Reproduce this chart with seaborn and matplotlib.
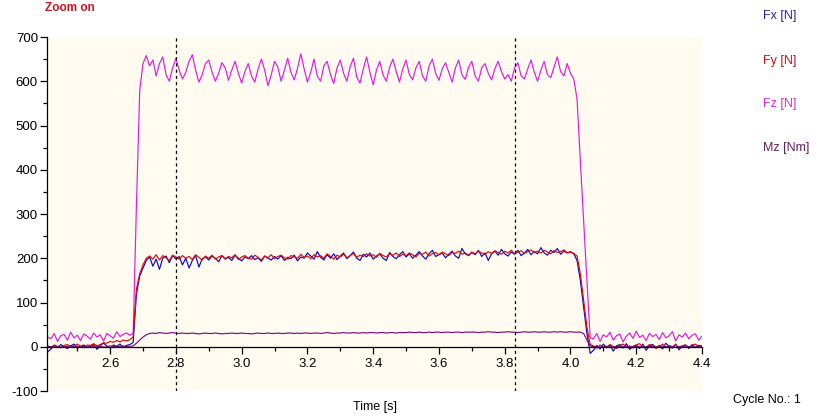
import numpy as np
import pandas as pd
import matplotlib
matplotlib.use("Agg")
import matplotlib.pyplot as plt
from matplotlib.ticker import MultipleLocator, FormatStrFormatter
import seaborn as sns

# ---------------- data (0.01 s sampling) ----------------
time_s = np.round(2.41 + 0.01 * np.arange(200), 2)

fz_values = [
    22, 18, 30, 12, 25, 28, 15, 33, 20, 26, 14, 29, 24, 17, 31, 22, 27, 13, 30, 25, 19, 34, 23, 28, 31, 26,
    30, 320, 580,
    640, 658, 635, 648, 612, 640, 655, 615, 600, 630, 652, 625, 605, 620, 645, 660,
    625, 598, 615, 640, 648, 620, 600, 618, 642, 630, 602, 625, 645, 618, 596, 622,
    640, 612, 598, 628, 650, 625, 590, 615, 645, 632, 600, 625, 652, 620, 603, 630,
    662, 628, 598, 620, 650, 612, 600, 635, 645, 615, 595, 630, 648, 618, 600, 633,
    652, 610, 596, 628, 655, 620, 592, 625, 645, 614, 600, 632, 650, 622, 598, 628,
    648, 615, 603, 630, 645, 612, 600, 635, 650, 618, 602, 628, 642, 620, 598, 630,
    648, 615, 604, 632, 645, 612, 600, 630, 640, 618, 603, 628, 645, 622, 605, 615,
    600, 630, 642, 612, 605, 628, 648, 620, 600, 625, 645, 615, 608, 632, 655, 622,
    612, 640, 618, 605,
    560, 420, 285, 150, 20,
    18, 30, 12, 27, 22, 33, 15, 25, 29, 11, 24, 31, 19, 35, 21, 26, 14, 30, 23, 28,
    16, 32, 20, 25, 34, 13, 27, 22, 31, 18, 26, 29, 15, 24,
]

fx_values = [
    -12, -5, 3, -2, 5, 0, -4, 2, 6, -3, 1, 4, -2, 0, 5, -6, 3, 8, 2, -3, 4, 1, 6, -2, 3, 5,
    10, 120, 160,
    178, 195, 203, 182, 198, 175, 200, 205, 190, 206,
    198, 204, 185, 200, 178, 195, 206, 180, 199, 203,
    196, 205, 200, 192, 206, 198, 202, 195, 207, 200,
    194, 203, 199, 206, 197, 201, 193, 205, 200, 196,
    204, 198, 206, 195, 202, 199, 207, 194, 203, 200,
    212, 205, 198, 215, 202, 196, 208, 200, 210, 197,
    205, 212, 199, 206, 214, 200, 195, 209, 203, 212,
    198, 205, 210, 200, 195, 213, 204, 199, 208, 215,
    203, 210, 200, 207, 215, 205, 198, 210, 218, 204,
    208, 212, 201, 209, 216, 205, 200, 222, 210, 206,
    213, 208, 218, 204, 212, 195, 210, 216, 207, 220,
    210, 205, 214, 209, 218, 206, 212, 220, 208, 215,
    210, 224, 212, 207, 218, 213, 222, 209, 216, 212,
    215, 210,
    195, 150, 90, 30, -15,
    -8, 3, -5, 6, -2, 4, -10, 2, 5, -3, 7, -6, 1, 4, -4, 6, -8, 2, 5, -2,
    3, -5, 8, 0, -3, 6, -7, 2, 4, -4, 5, -2, 3, 1,
]

fy_values = [
    2, -3, 4, 0, -2, 3, 5, -1, 2, 6, 1, -2, 4, 3, 7, 2, 5, 9, 8, 12, 10, 14, 11, 15, 13, 16,
    22, 130, 165,
    185, 200, 205, 198, 208, 196, 206, 201, 195, 207,
    203, 198, 206, 200, 204, 197, 208, 202, 196, 205,
    200, 207, 198, 203, 206, 199, 204, 201, 208, 197,
    203, 206, 200, 198, 207, 202, 196, 205, 201, 208,
    199, 204, 207, 201, 198, 206, 203, 200, 209, 202,
    205, 199, 208, 203, 206, 200, 210, 204, 198, 207,
    203, 209, 201, 206, 211, 202, 207, 204, 210, 205,
    208, 202, 211, 206, 203, 210, 207, 212, 204, 209,
    206, 212, 208, 203, 211, 209, 214, 205, 210, 213,
    208, 214, 210, 206, 213, 211, 216, 209, 212, 207,
    214, 210, 216, 212, 208, 215, 211, 217, 213, 209,
    216, 212, 218, 210, 214, 217, 211, 215, 219, 213,
    216, 212, 218, 214, 210, 217, 213, 215, 219, 212,
    214, 211,
    205, 165, 105, 45, 5,
    2, -3, 4, 0, -2, 5, 1, -4, 3, 6, -1, 2, -3, 4, 7, 0, -2, 5, 3, -4,
    1, 6, -2, 3, 0, 5, -3, 2, 4, -1, 3, 6, 0, 2,
]

mz_values = [
    1, 0, 2, 1, -1, 0, 1, 2, 0, 1, -1, 1, 0, 2, 1, 0, 1, -1, 0, 2, 1, 0, 1, 2, 0, 1,
    2, 8, 15,
    22, 27, 30, 31, 30, 32, 31, 30, 31, 32,
    31, 30, 31, 30, 30, 31, 30, 29, 30, 31,
    30, 30, 31, 30, 29, 30, 30, 31, 30, 30,
    31, 30, 30, 29, 30, 31, 30, 30, 31, 30,
    30, 31, 30, 30, 31, 31, 30, 31, 30, 31,
    31, 30, 31, 31, 30, 31, 32, 31, 30, 31,
    31, 32, 31, 31, 32, 31, 31, 32, 31, 32,
    32, 31, 32, 32, 31, 32, 32, 31, 32, 32,
    32, 33, 32, 32, 33, 32, 32, 33, 32, 33,
    33, 32, 33, 33, 32, 33, 33, 32, 33, 33,
    33, 33, 32, 33, 33, 34, 33, 33, 32, 33,
    33, 34, 33, 33, 32, 33, 34, 33, 33, 34,
    33, 33, 34, 33, 33, 34, 33, 34, 33, 33,
    34, 33,
    33, 33, 30, 15, 2,
    0, 1, -1, 0, 1, 0, -1, 1, 0, 0, 1, -1, 0, 1, 0, -1, 0, 1, 0, 0,
    -1, 1, 0, 1, 0, -1, 0, 1, 0, 0, 1, -1, 0, 1,
]

channel_names = ["Fz [N]", "Fx [N]", "Fy [N]", "Mz [Nm]"]
legend_order = ["Fx [N]", "Fy [N]", "Fz [N]", "Mz [Nm]"]
cursor_times = [2.8, 3.83]
y_ticks = [-100, 0, 100, 200, 300, 400, 500, 600, 700]
x_ticks = [2.6, 2.8, 3.0, 3.2, 3.4, 3.6, 3.8, 4.0, 4.2, 4.4]

line_colors = {"Fx [N]": "#0A0AB4", "Fy [N]": "#E00808",
               "Fz [N]": "#DD1CDD", "Mz [Nm]": "#800A80"}
text_colors = {"Fx [N]": "#2626A0", "Fy [N]": "#C81414",
               "Fz [N]": "#D030D0", "Mz [Nm]": "#5E205E"}

series = {"Fx [N]": fx_values, "Fy [N]": fy_values,
          "Fz [N]": fz_values, "Mz [Nm]": mz_values}
df = pd.concat([pd.DataFrame({"t": time_s, "v": series[n], "ch": n})
                for n in channel_names], ignore_index=True)

# ---------------- figure ----------------
sns.set_style("white")
plt.rcParams["font.family"] = ["Liberation Sans", "DejaVu Sans"]
plt.rcParams["axes.unicode_minus"] = False

fig = plt.figure(figsize=(8.25, 4.19), dpi=100)
ax = fig.add_axes([47 / 825, 1 - 391 / 419, (702 - 47) / 825, (391 - 37) / 419])
ax.set_facecolor("#FFFBF0")

sns.lineplot(data=df, x="t", y="v", hue="ch", hue_order=channel_names,
             palette=line_colors, linewidth=0.85, legend=False, ax=ax,
             estimator=None, sort=False)

for ct in cursor_times:
    ax.axvline(ct, color="black", linewidth=0.9, linestyle=(0, (2.5, 2.5)), zorder=5)

ax.set_xlim(2.408, 4.4)
ax.set_ylim(-100, 700)

for s in ["top", "right"]:
    ax.spines[s].set_visible(False)
ax.spines["left"].set_color("black")
ax.spines["bottom"].set_color("black")
ax.spines["left"].set_linewidth(0.9)
ax.spines["bottom"].set_linewidth(0.9)
ax.spines["bottom"].set_position(("data", 0))

ax.set_yticks(y_ticks)
ax.yaxis.set_minor_locator(MultipleLocator(50))
ax.set_xticks(x_ticks)
ax.xaxis.set_major_formatter(FormatStrFormatter("%.1f"))
ax.xaxis.set_minor_locator(MultipleLocator(0.1))
ax.tick_params(axis="both", which="major", direction="out", length=5, width=0.9,
               color="black", labelsize=9.5, labelcolor="black", pad=1.5)
ax.tick_params(axis="both", which="minor", direction="out", length=3, width=0.9,
               color="black")
ax.tick_params(axis="x", which="major", pad=3)
ax.tick_params(left=True, bottom=True, which="both")
ax.set_xlabel("")
ax.set_ylabel("")

# texts
fig.text(45 / 825, 1 - 8 / 419, "Zoom on", color="#D01020", fontsize=8.5,
         fontweight="bold", ha="left", va="center")
legend_y = [16, 61, 104, 148]
for name, yp in zip(legend_order, legend_y):
    fig.text(763 / 825, 1 - yp / 419, name, color=text_colors[name],
             fontsize=9, ha="left", va="center")
fig.text(375 / 825, 1 - 407 / 419, "Time [s]", color="black", fontsize=9,
         ha="center", va="center")
fig.text(733 / 825, 1 - 400 / 419, "Cycle No.: 1", color="black", fontsize=9,
         ha="left", va="center")

fig.savefig("out.png", dpi=100, facecolor="white")
